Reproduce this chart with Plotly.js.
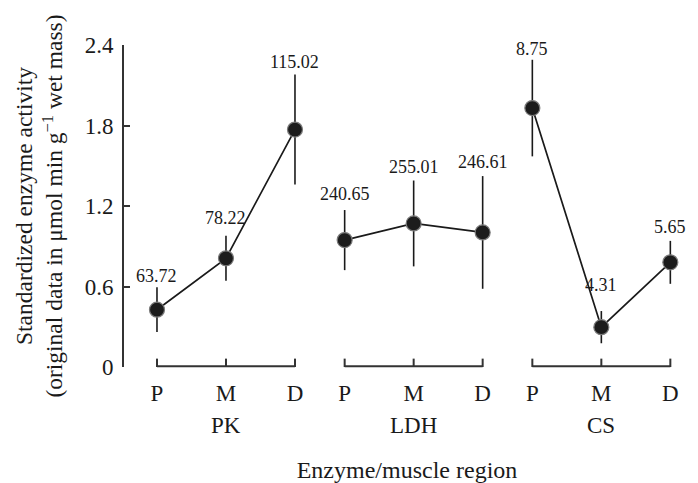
<!DOCTYPE html>
<html>
<head>
<meta charset="utf-8">
<script src="https://cdn.plot.ly/plotly-3.0.1.min.js"></script>
<style>html,body{margin:0;padding:0;background:#fff;}#chart{width:698px;height:483px;}</style>
</head>
<body>
<div id="chart"></div>
<script>
// ---- data ----
const regions = ['P', 'M', 'D'];
const enzymes = ['PK', 'LDH', 'CS'];
const pkMean = [0.427, 0.81, 1.77];
const pkErr = [0.167, 0.168, 0.41];
const pkLabels = ['63.72', '78.22', '115.02'];
const ldhMean = [0.946, 1.07, 1.003];
const ldhErr = [0.224, 0.32, 0.42];
const ldhLabels = ['240.65', '255.01', '246.61'];
const csMean = [1.93, 0.297, 0.78];
const csErr = [0.36, 0.12, 0.16];
const csLabels = ['8.75', '4.31', '5.65'];
const yTicks = [0, 0.6, 1.2, 1.8, 2.4];
const yTickText = ['0', '0.6', '1.2', '1.8', '2.4'];

// ---- layout helpers (positions / styles) ----
const groupGap = 0.72;
const labelShift = [[11, 18, 13], [16, 14, 14], [11, 26, 14]];
const FONT = 'Liberation Serif, Times New Roman, serif';
const INK = '#1a1a1a';

const means = [pkMean, ldhMean, csMean];
const errs = [pkErr, ldhErr, csErr];
const labels = [pkLabels, ldhLabels, csLabels];

function xpos(g, i) { return g * (regions.length - 1 + groupGap) + i; }

const traces = [];
const annotations = [];
const shapes = [];
const tickvals = [], ticktext = [];

enzymes.forEach((enz, g) => {
  const xs = regions.map((r, i) => xpos(g, i));
  traces.push({
    type: 'scatter', mode: 'lines+markers', name: enz,
    x: xs, y: means[g],
    error_y: { type: 'data', array: errs[g], visible: true, color: INK, thickness: 1.6, width: 0 },
    line: { color: INK, width: 1.7 },
    marker: { size: 15, color: '#1c1c1c', line: { color: '#7a7a7a', width: 1.2 } },
    cliponaxis: false, hoverinfo: 'x+y', showlegend: false
  });
  xs.forEach((x, i) => {
    tickvals.push(x); ticktext.push(regions[i]);
    annotations.push({
      x: x, y: means[g][i] + errs[g][i], xref: 'x', yref: 'y',
      text: labels[g][i], showarrow: false, yanchor: 'middle', yshift: labelShift[g][i],
      font: { family: FONT, size: 18, color: INK }
    });
    // bracket tick
    shapes.push({ type: 'line', xref: 'x', yref: 'paper', x0: x, x1: x, y0: 0, y1: 0.026,
      line: { color: '#333', width: 2 } });
  });
  // bracket base
  shapes.push({ type: 'line', xref: 'x', yref: 'paper', x0: xs[0], x1: xs[xs.length - 1], y0: 0.002, y1: 0.002,
    line: { color: '#333', width: 2 } });
  annotations.push({
    x: xs[1], y: -0.183, xref: 'x', yref: 'paper', text: enz, showarrow: false, yanchor: 'middle',
    font: { family: FONT, size: 23, color: INK }
  });
});

const layout = {
  width: 698, height: 483,
  margin: { l: 124, r: 8, t: 45, b: 116 },
  paper_bgcolor: '#fff', plot_bgcolor: '#fff',
  font: { family: FONT, size: 23, color: INK },
  xaxis: {
    range: [-0.478, 7.725], showgrid: false, zeroline: false, showline: false,
    tickmode: 'array', tickvals: tickvals, ticktext: ticktext, ticks: '',
    ticklabelstandoff: 10,
    tickfont: { family: FONT, size: 23, color: INK },
    title: { text: 'Enzyme/muscle region', font: { family: FONT, size: 24, color: INK }, standoff: 58 }
  },
  yaxis: {
    range: [0, 2.4], showgrid: false, zeroline: false, showline: true, linecolor: '#333', linewidth: 2,
    ticks: 'inside', ticklen: 6, tickwidth: 2, tickcolor: '#333',
    tickmode: 'array', tickvals: yTicks, ticktext: yTickText,
    ticklabelstandoff: 4,
    tickfont: { family: FONT, size: 23, color: INK },
    title: { text: 'Standardized enzyme activity<br>(original data in μmol min g<sup>−1</sup> wet mass)',
      font: { family: FONT, size: 23.5, color: INK }, standoff: 15 }
  },
  annotations: annotations,
  shapes: shapes,
  showlegend: false
};

Plotly.newPlot('chart', traces, layout, { displayModeBar: false, staticPlot: true });
</script>
</body>
</html>
